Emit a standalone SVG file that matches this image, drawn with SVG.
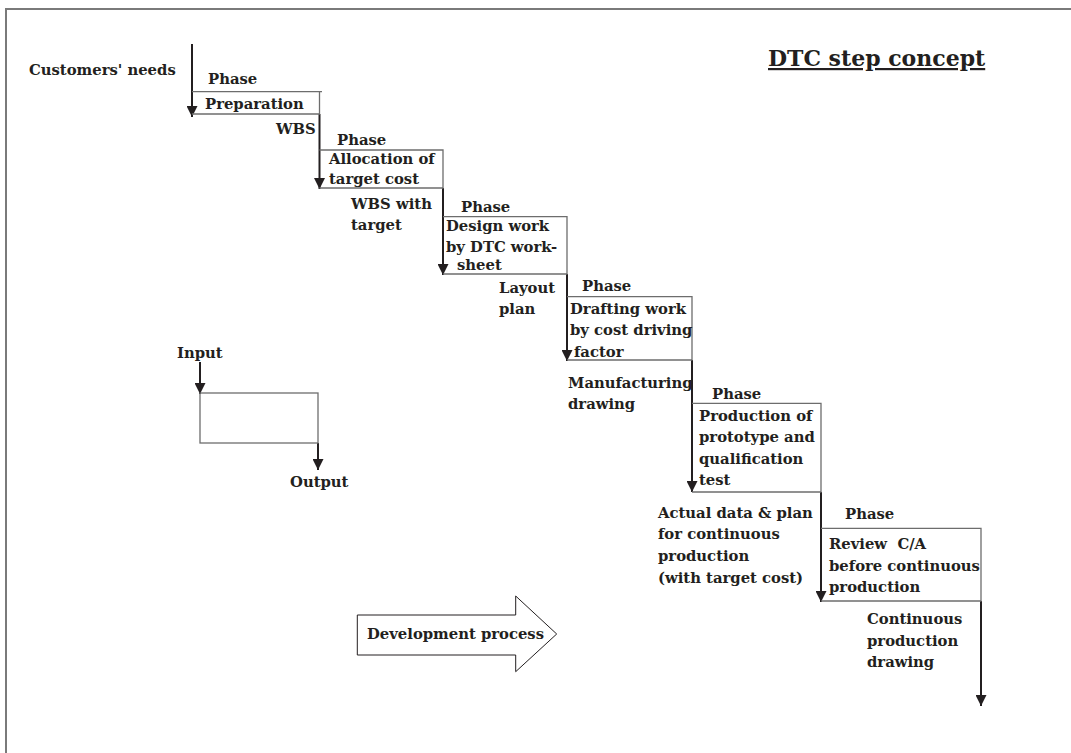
<svg xmlns="http://www.w3.org/2000/svg" width="1071" height="753" viewBox="0 0 1071 753">
<style>
text { font-family: "DejaVu Serif", "Liberation Serif", serif; font-weight: bold; font-size: 14.8px; fill: #231f20; }
.title { font-size: 22px; text-decoration: underline; }
.box { fill: none; stroke: #6d6d6d; stroke-width: 1.3; }
.arr { fill: none; stroke: #231f20; stroke-width: 2; marker-end: url(#ah); }
.frame { fill: none; stroke: #7a7a7a; stroke-width: 2; }
.big { fill: #fff; stroke: #231f20; stroke-width: 1; }
</style>
<defs>
<marker id="ah" markerUnits="userSpaceOnUse" markerWidth="11" markerHeight="11" refX="10" refY="5" orient="auto" viewBox="0 0 10 10">
<path d="M0,0 L10,5 L0,10 z" fill="#231f20"/>
</marker>
</defs>
<rect width="1071" height="753" fill="#fff"/>
<path class="frame" d="M6,753 L6,9 L1071,9"/>

<text id="title" class="title" x="768" y="66">DTC step concept</text>

<g id="connectors">
<line class="arr" x1="192" y1="44" x2="192" y2="117"/>
<line class="arr" x1="319.5" y1="114" x2="319.5" y2="189"/>
<line class="arr" x1="443" y1="188" x2="443" y2="275"/>
<line class="arr" x1="567" y1="274" x2="567" y2="361"/>
<line class="arr" x1="692" y1="360" x2="692" y2="492"/>
<line class="arr" x1="821" y1="492" x2="821" y2="602"/>
<line class="arr" x1="981" y1="601" x2="981" y2="706"/>
<line class="arr" x1="200" y1="362" x2="200" y2="394"/>
<line class="arr" x1="318" y1="443" x2="318" y2="470"/>
</g>

<g id="start">
<text x="29" y="75">Customers' needs</text>
</g>

<g id="phase1">
<path class="box" d="M192,91.7 H322 M319.5,91.7 V114 H192"/>
<text x="208" y="84">Phase</text>
<text x="205" y="109">Preparation</text>
</g>
<g id="out1"><text x="276" y="134">WBS</text></g>

<g id="phase2">
<path class="box" d="M319.5,150 H443 V188 H319.5"/>
<text x="337" y="145">Phase</text>
<text x="329" y="164">Allocation of</text>
<text x="329" y="184">target cost</text>
</g>
<g id="out2"><text x="351" y="209">WBS with</text><text x="351" y="230">target</text></g>

<g id="phase3">
<path class="box" d="M443,216.7 H567 V274 H443"/>
<text x="461" y="211.5">Phase</text>
<text x="446" y="231">Design work</text>
<text x="446" y="251.5">by DTC work-</text>
<text x="457" y="269.5">sheet</text>
</g>
<g id="out3"><text x="499" y="293">Layout</text><text x="499" y="314">plan</text></g>

<g id="phase4">
<path class="box" d="M567,296.7 H692 V360 H567"/>
<text x="582" y="290.5">Phase</text>
<text x="570" y="313.5">Drafting work</text>
<text x="570" y="335">by cost driving</text>
<text x="574" y="356.5">factor</text>
</g>
<g id="out4"><text x="568" y="387.5">Manufacturing</text><text x="568" y="408.5">drawing</text></g>

<g id="phase5">
<path class="box" d="M692,403.3 H821 V492 H692"/>
<text x="712" y="398.5">Phase</text>
<text x="699" y="421">Production of</text>
<text x="699" y="442">prototype and</text>
<text x="699" y="463.5">qualification</text>
<text x="699" y="485">test</text>
</g>
<g id="out5">
<text x="658" y="517.5">Actual data &amp; plan</text>
<text x="658" y="539">for continuous</text>
<text x="658" y="561">production</text>
<text x="658" y="582.5">(with target cost)</text>
</g>

<g id="phase6">
<path class="box" d="M821,528.3 H981 V601 H821"/>
<text x="845" y="519">Phase</text>
<text x="829" y="548.5" xml:space="preserve">Review  C/A</text>
<text x="829" y="570.5">before continuous</text>
<text x="829" y="591.5">production</text>
</g>
<g id="out6">
<text x="867" y="623.5">Continuous</text>
<text x="867" y="645.5">production</text>
<text x="867" y="666.5">drawing</text>
</g>

<g id="legend">
<text x="177" y="358">Input</text>
<rect class="box" x="200" y="393" width="118" height="50"/>
<text x="290" y="487">Output</text>
</g>

<g id="devprocess">
<path class="big" d="M357.3,615 H515.7 V596 L556.7,634 L515.7,671.7 V655 H357.3 Z"/>
<text x="367" y="638.5">Development process</text>
</g>
</svg>
